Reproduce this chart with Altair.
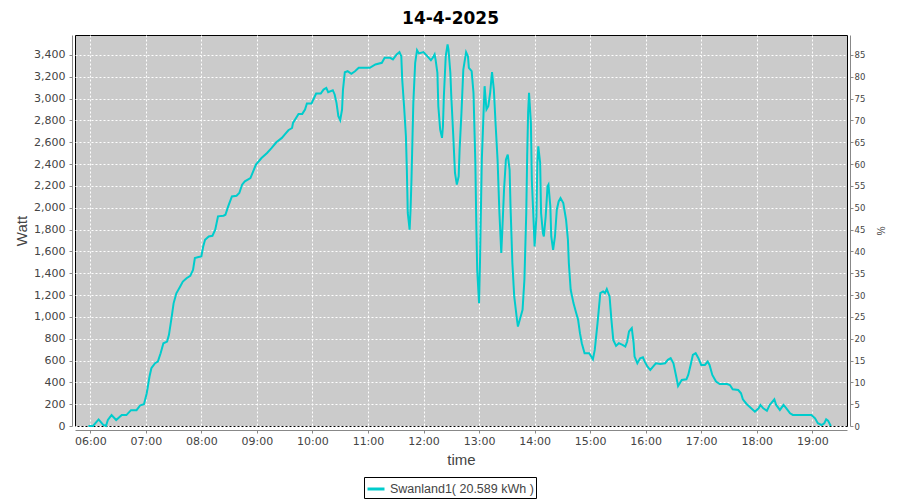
import altair as alt
import pandas as pd

TITLE = "14-4-2025"
SERIES = "Swanland1( 20.589 kWh )"
DAY = "2025-04-14"

times = [
    "05:58", "06:03", "06:09", "06:14", "06:17", "06:19", "06:23", "06:28", "06:34", "06:39",
    "06:44", "06:50", "06:54", "06:58", "07:01", "07:04", "07:06", "07:10", "07:13", "07:16",
    "07:19", "07:23", "07:25", "07:28", "07:30", "07:33", "07:37", "07:40", "07:44", "07:48",
    "07:51", "07:53", "07:57", "08:00", "08:02", "08:04", "08:08", "08:12", "08:15", "08:18",
    "08:24", "08:26", "08:29", "08:33", "08:38", "08:41", "08:44", "08:47", "08:53", "08:56",
    "08:59", "09:05", "09:11", "09:16", "09:21", "09:27", "09:30", "09:34", "09:38", "09:39",
    "09:45", "09:49", "09:52", "09:54", "09:59", "10:04", "10:09", "10:12", "10:15", "10:17",
    "10:22", "10:24", "10:26", "10:28", "10:30", "10:32", "10:33", "10:35", "10:38", "10:42",
    "10:46", "10:50", "10:55", "11:02", "11:08", "11:15", "11:18", "11:24", "11:27", "11:31",
    "11:34", "11:36", "11:37", "11:39", "11:41", "11:42", "11:43", "11:45", "11:46", "11:47",
    "11:49", "11:51", "11:53", "11:55", "12:00", "12:04", "12:08", "12:10", "12:12", "12:13",
    "12:15", "12:16", "12:18", "12:20", "12:21", "12:22", "12:24", "12:26", "12:27", "12:29",
    "12:30", "12:32", "12:34", "12:36", "12:38", "12:39", "12:41", "12:43", "12:46", "12:48",
    "12:49", "12:52", "12:54", "12:56", "12:57", "12:58", "13:00", "13:01", "13:03", "13:05",
    "13:06", "13:08", "13:10", "13:12", "13:14", "13:16", "13:18", "13:20", "13:22", "13:24",
    "13:25", "13:27", "13:29", "13:31", "13:33", "13:34", "13:36", "13:38", "13:41", "13:42",
    "13:44", "13:47", "13:49", "13:51", "13:52", "13:53", "13:54", "13:56", "13:57", "13:59",
    "14:00", "14:02", "14:03", "14:04", "14:06", "14:07", "14:09", "14:10", "14:12", "14:14",
    "14:15", "14:17", "14:18", "14:20", "14:22", "14:24", "14:26", "14:28", "14:31", "14:34",
    "14:36", "14:37", "14:39", "14:42", "14:45", "14:47", "14:49", "14:51", "14:54", "14:59",
    "15:03", "15:05", "15:08", "15:11", "15:14", "15:16", "15:18", "15:21", "15:23", "15:25",
    "15:28", "15:31", "15:35", "15:38", "15:40", "15:42", "15:45", "15:47", "15:48", "15:51",
    "15:54", "15:57", "15:59", "16:02", "16:05", "16:08", "16:11", "16:16", "16:21", "16:24",
    "16:27", "16:30", "16:33", "16:35", "16:39", "16:44", "16:46", "16:49", "16:51", "16:54",
    "16:57", "17:00", "17:04", "17:07", "17:09", "17:12", "17:16", "17:20", "17:28", "17:31",
    "17:34", "17:40", "17:43", "17:45", "17:49", "17:54", "17:58", "18:02", "18:04", "18:07",
    "18:11", "18:14", "18:19", "18:21", "18:25", "18:29", "18:32", "18:36", "18:39", "18:47",
    "18:56", "18:59", "19:03", "19:06", "19:10", "19:13", "19:15", "19:17", "19:20",
]

watts = [
    0, 0, 60, 10, 0, 55, 100, 55, 100, 100,
    145, 145, 190, 200, 300, 453, 529, 575, 590, 667,
    758, 774, 835, 1003, 1124, 1216, 1277, 1323, 1354, 1376,
    1431, 1539, 1548, 1554, 1645, 1706, 1737, 1743, 1798, 1921,
    1927, 1936, 2012, 2104, 2110, 2135, 2211, 2242, 2272, 2333,
    2395, 2456, 2502, 2548, 2600, 2640, 2670, 2710, 2731, 2777,
    2860, 2860, 2900, 2955, 2955, 3047, 3047, 3083, 3098, 3059,
    3077, 3038, 2961, 2839, 2802, 2900, 3083, 3242, 3251, 3227,
    3251, 3282, 3282, 3282, 3313, 3328, 3374, 3374, 3359, 3405,
    3426, 3389, 3175, 2930, 2655, 2349, 1952, 1799, 1982, 2257,
    2961, 3328, 3444, 3414, 3426, 3389, 3352, 3374, 3405, 3359,
    3237, 2930, 2716, 2640, 2747, 3022, 3389, 3496, 3450, 3237,
    3022, 2686, 2319, 2212, 2288, 2533, 2870, 3267, 3426, 3389,
    3282, 3251, 3053, 2411, 1860, 1432, 1126, 1493, 2441, 2900,
    3114, 2900, 2930, 3053, 3242, 3083, 2747, 2441, 1952, 1585,
    1768, 2166, 2441, 2487, 2349, 2013, 1493, 1187, 973, 911,
    973, 1065, 1340, 1952, 2471, 2870, 3053, 2778, 2257, 1860,
    1646, 1921, 2411, 2563, 2411, 1952, 1768, 1737, 1921, 2196,
    2212, 2013, 1737, 1615, 1737, 1982, 2058, 2089, 2043, 1890,
    1707, 1493, 1248, 1126, 1034, 973, 851, 759, 667, 667,
    612, 697, 942, 1218, 1233, 1218, 1254, 1187, 973, 789,
    734, 759, 743, 728, 774, 866, 897, 759, 636, 575,
    621, 630, 590, 544, 514, 544, 575, 569, 575, 606,
    621, 575, 453, 367, 422, 428, 468, 575, 652, 667,
    621, 560, 560, 590, 560, 468, 407, 385, 385, 376,
    337, 330, 300, 245, 202, 162, 131, 162, 193, 162,
    140, 193, 245, 193, 147, 193, 162, 116, 101, 101,
    101, 101, 70, 25, 9, 25, 61, 49, 0,
]

watt_ticks = list(range(0, 3401, 200))
pct_ticks = list(range(0, 86, 5))
hour_ticks = list(range(6, 20))

df = pd.DataFrame({
    "ts": [f"{DAY}T{t}:00" for t in times],
    "watt": watts,
    "series": [SERIES] * len(times),
})


def dt(h, m=0, s=0):
    return alt.DateTime(year=2025, month=4, date=14, hours=h, minutes=m, seconds=s)


x_enc = alt.X(
    "ts:T",
    scale=alt.Scale(domain=[dt(5, 43, 30), dt(19, 37, 30)]),
    axis=alt.Axis(
        values=[dt(h) for h in hour_ticks],
        format="%H:%M",
        title="time",
        grid=True,
        offset=4,
        labelPadding=2,
        titlePadding=6,
    ),
)

line = alt.Chart(df).mark_line(strokeWidth=2).encode(
    x=x_enc,
    y=alt.Y(
        "watt:Q",
        scale=alt.Scale(domain=[0, 3583], nice=False, zero=True),
        axis=alt.Axis(
            values=watt_ticks,
            format=",d",
            title="Watt",
            grid=True,
            offset=3,
            labelPadding=4,
            titlePadding=4,
        ),
    ),
    color=alt.Color(
        "series:N",
        scale=alt.Scale(range=["#00cccc"]),
        legend=alt.Legend(
            title=None,
            orient="none",
            legendX=289,
            legendY=442,
            symbolType="stroke",
            symbolSize=289,
            symbolStrokeWidth=3,
            labelOffset=4,
            padding=2,
            strokeColor="black",
            fillColor="white",
            labelFont="Liberation Sans",
            labelFontSize=12.5,
            labelColor="#444444",
        ),
    ),
)

right = alt.Chart(df).transform_calculate(
    pct="datum.watt / 40"
).mark_line(strokeOpacity=0).encode(
    x=x_enc,
    y=alt.Y(
        "pct:Q",
        scale=alt.Scale(domain=[0, 89.575], nice=False, zero=True),
        axis=alt.Axis(
            orient="right",
            values=pct_ticks,
            title="%",
            grid=False,
            offset=3,
            labelPadding=1,
            labelFontSize=8.5,
            titleFontSize=10,
            titlePadding=10,
        ),
    ),
)

chart = alt.layer(line, right).resolve_scale(y="independent").properties(
    width=772,
    height=391,
    background="white",
    autosize=alt.AutoSizeParams(type="none"),
    padding={"left": 67, "top": 27, "right": 45, "bottom": 73},
    title=alt.TitleParams(
        text=TITLE,
        font="DejaVu Sans",
        fontSize=17,
        fontWeight="bold",
        color="black",
        anchor="middle",
        dx=-10.5,
        offset=7.5,
    ),
).configure_view(
    stroke="black", strokeWidth=1, fill="#cbcbcb"
).configure_axis(
    gridColor="white",
    gridDash=[2, 2],
    gridOpacity=1,
    gridWidth=1,
    domainColor="#888888",
    tickColor="#888888",
    tickSize=3,
    labelColor="#444444",
    labelFont="DejaVu Sans",
    labelFontSize=11,
    titleColor="#444444",
    titleFont="Liberation Sans",
    titleFontSize=15,
    titleFontWeight="normal",
)

chart.save("out.html", embed_options={"renderer": "svg", "actions": False})
